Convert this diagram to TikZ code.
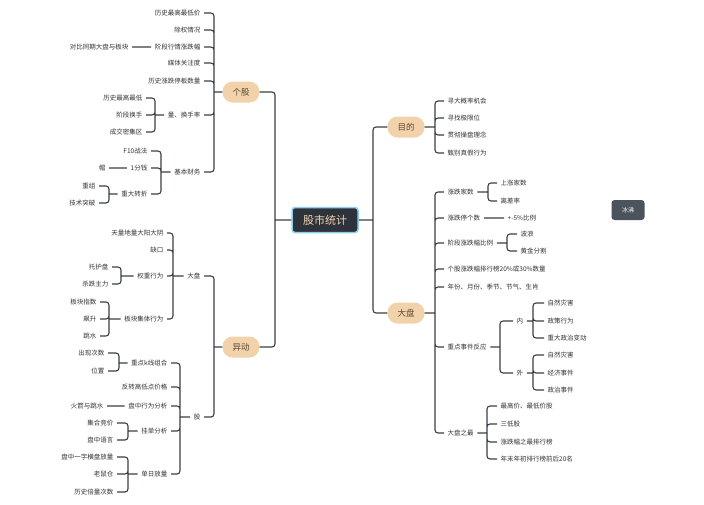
\documentclass[tikz,border=0pt]{standalone}
\usepackage{fontspec}
\newfontfamily\cjk{Noto Sans CJK SC}
\definecolor{linec}{HTML}{3A3E45}
\definecolor{leafc}{HTML}{333333}
\definecolor{topicc}{HTML}{F2D2AB}
\definecolor{topictext}{HTML}{5C4632}
\definecolor{rootc}{HTML}{2E333B}
\definecolor{rootline}{HTML}{8CCFF0}
\definecolor{roottext}{HTML}{F3D8B5}
\definecolor{floatc}{HTML}{4B535D}

\begin{document}
\begin{tikzpicture}[x=1pt,y=-1pt]
\tikzset{leaf/.style={font=\cjk\fontsize{6.5}{7}\selectfont, text=leafc, inner xsep=3.5pt, inner ysep=1pt},
  leafl/.style={leaf, anchor=east},
  leafr/.style={leaf, anchor=west},
  topic/.style={fill=topicc, rounded corners=10pt, minimum width=37pt, minimum height=21pt, inner sep=0pt,
    font=\cjk\fontsize{8.5}{9}\selectfont, text=topictext},
  root/.style={fill=rootc, draw=rootline, line width=1.5pt, rounded corners=3pt, minimum width=66pt,
    minimum height=25pt, font=\cjk\fontsize{11}{12}\selectfont, text=roottext},
  floating/.style={fill=floatc, rounded corners=3pt, minimum width=33pt, minimum height=20pt,
    font=\cjk\fontsize{6}{7}\selectfont, text=white},
  link/.style={draw=linec, line width=1.1pt, rounded corners=3pt}}
\fill[white] (0,0) rectangle (704,504);
\useasboundingbox (0,0) rectangle (704,504);

\node[root] (sc) at (325,220) {股市统计};
\node[floating] (bf) at (628,210) {冰沸};
\node[topic] (gg) at (241,92) {个股};
\node[topic] (yd) at (241,347) {异动};
\node[topic] (md) at (406,127) {目的};
\node[topic] (dp) at (406,313) {大盘};

\coordinate (jl) at (275,220);
\coordinate (jr) at (373,220);
\draw[link] (sc.west) -- (jl) (jl) |- (gg.east) (jl) |- (yd.east)
  (sc.east) -- (jr) (jr) |- (md.west) (jr) |- (dp.west);

% 个股
\node[leafl] (gg1) at (204,13) {历史最高最低价};
\node[leafl] (gg2) at (204,30) {除权情况};
\node[leafl] (gg3) at (204,47) {阶段行情涨跌幅};
\node[leafl] (gg4) at (204,63) {媒体关注度};
\node[leafl] (gg5) at (204,81) {历史涨跌停板数量};
\node[leafl] (gg6) at (204,115) {量、换手率};
\node[leafl] (gg7) at (204,172) {基本财务};
\node[leafl] (gg31) at (132,47) {对比同期大盘与板块};
\node[leafl] (gg61) at (146,98) {历史最高最低};
\node[leafl] (gg62) at (146,115) {阶段换手};
\node[leafl] (gg63) at (146,132) {成交密集区};
\node[leafl] (gg71) at (151,151) {F10战法};
\node[leafl] (gg72) at (151,168) {1分钱};
\node[leafl] (gg73) at (151,194) {重大转折};
\node[leafl] (gg721) at (109,168) {帽};
\node[leafl] (gg731) at (99,186) {重组};
\node[leafl] (gg732) at (99,203) {技术突破};

\coordinate (jgg) at (214,92);
\coordinate (jgg6) at (155,115);
\coordinate (jgg7) at (161,172);
\coordinate (jgg73) at (109,194);
\draw[link] (gg.west) -- (jgg) (jgg) |- (gg1.east) (jgg) |- (gg2.east) (jgg) |- (gg3.east)
  (jgg) |- (gg4.east) (jgg) |- (gg5.east) (jgg) |- (gg6.east) (jgg) |- (gg7.east)
  (gg3.west) -- (gg31.east)
  (gg6.west) -- (jgg6) (jgg6) |- (gg61.east) (jgg6) |- (gg62.east) (jgg6) |- (gg63.east)
  (gg7.west) -- (jgg7) (jgg7) |- (gg71.east) (jgg7) |- (gg72.east) (jgg7) |- (gg73.east)
  (gg72.west) -- (gg721.east)
  (gg73.west) -- (jgg73) (jgg73) |- (gg731.east) (jgg73) |- (gg732.east);

% 异动
\node[leafl] (yd1) at (204,276) {大盘};
\node[leafl] (yd2) at (204,417) {股};
\node[leafl] (yd11) at (167,233) {天量地量大阳大阴};
\node[leafl] (yd12) at (167,250) {缺口};
\node[leafl] (yd13) at (167,276) {权重行为};
\node[leafl] (yd14) at (167,319) {板块集体行为};
\node[leafl] (yd131) at (112,267) {托护盘};
\node[leafl] (yd132) at (112,284) {杀跌主力};
\node[leafl] (yd141) at (100,302) {板块指数};
\node[leafl] (yd142) at (100,319) {飙升};
\node[leafl] (yd143) at (100,336) {跳水};
\node[leafl] (yd21) at (171,363) {重点k线组合};
\node[leafl] (yd22) at (171,387) {反转高低点价格};
\node[leafl] (yd23) at (171,406) {盘中行为分析};
\node[leafl] (yd24) at (171,431) {挂单分析};
\node[leafl] (yd25) at (171,474) {单日放量};
\node[leafl] (yd211) at (108,353) {出现次数};
\node[leafl] (yd212) at (108,371) {位置};
\node[leafl] (yd231) at (107,406) {火箭与跳水};
\node[leafl] (yd241) at (117,423) {集合竞价};
\node[leafl] (yd242) at (117,440) {盘中语言};
\node[leafl] (yd251) at (117,457) {盘中一字横盘放量};
\node[leafl] (yd252) at (117,474) {老鼠仓};
\node[leafl] (yd253) at (117,492) {历史倍量次数};

\coordinate (jyd) at (214,347);
\coordinate (jyd1) at (173,276);
\coordinate (jyd13) at (121,276);
\coordinate (jyd14) at (109,319);
\coordinate (jyd2) at (180,417);
\coordinate (jyd21) at (119,363);
\coordinate (jyd24) at (128,431);
\coordinate (jyd25) at (128,474);
\draw[link] (yd.west) -- (jyd) (jyd) |- (yd1.east) (jyd) |- (yd2.east)
  (yd1.west) -- (jyd1) (jyd1) |- (yd11.east) (jyd1) |- (yd12.east) (jyd1) |- (yd13.east) (jyd1) |- (yd14.east)
  (yd13.west) -- (jyd13) (jyd13) |- (yd131.east) (jyd13) |- (yd132.east)
  (yd14.west) -- (jyd14) (jyd14) |- (yd141.east) (jyd14) |- (yd142.east) (jyd14) |- (yd143.east)
  (yd2.west) -- (jyd2) (jyd2) |- (yd21.east) (jyd2) |- (yd22.east) (jyd2) |- (yd23.east)
  (jyd2) |- (yd24.east) (jyd2) |- (yd25.east)
  (yd21.west) -- (jyd21) (jyd21) |- (yd211.east) (jyd21) |- (yd212.east)
  (yd23.west) -- (yd231.east)
  (yd24.west) -- (jyd24) (jyd24) |- (yd241.east) (jyd24) |- (yd242.east)
  (yd25.west) -- (jyd25) (jyd25) |- (yd251.east) (jyd25) |- (yd252.east) (jyd25) |- (yd253.east);

% 目的
\node[leafr] (md1) at (444,101) {寻大概率机会};
\node[leafr] (md2) at (444,118) {寻找极限位};
\node[leafr] (md3) at (444,135) {贯彻操盘理念};
\node[leafr] (md4) at (444,153) {甄别真假行为};
\coordinate (jmd) at (435,127);
\draw[link] (md.east) -- (jmd) (jmd) |- (md1.west) (jmd) |- (md2.west) (jmd) |- (md3.west) (jmd) |- (md4.west);

% 大盘
\node[leafr] (dp1) at (444,192) {涨跌家数};
\node[leafr] (dp2) at (444,218) {涨跌停个数};
\node[leafr] (dp3) at (444,243) {阶段涨跌幅比例};
\node[leafr] (dp4) at (444,269) {个股涨跌幅排行榜20\%或30\%数量};
\node[leafr] (dp5) at (444,287) {年份、月份、季节、节气、生肖};
\node[leafr] (dp6) at (444,347) {重点事件反应};
\node[leafr] (dp7) at (444,433) {大盘之最};
\node[leafr] (dp11) at (497,183) {上涨家数};
\node[leafr] (dp12) at (497,201) {离差率};
\node[leafr] (dp21) at (504,218) {+-5\%比例};
\node[leafr] (dp31) at (517,234) {波浪};
\node[leafr] (dp32) at (517,251) {黄金分割};
\node[leafr] (dp61) at (513,321) {内};
\node[leafr] (dp62) at (513,373) {外};
\node[leafr] (dp611) at (544,303) {自然灾害};
\node[leafr] (dp612) at (544,321) {政策行为};
\node[leafr] (dp613) at (544,338) {重大政治变动};
\node[leafr] (dp621) at (544,355) {自然灾害};
\node[leafr] (dp622) at (544,373) {经济事件};
\node[leafr] (dp623) at (544,390) {政治事件};
\node[leafr] (dp71) at (497,406) {最高价、最低价股};
\node[leafr] (dp72) at (497,424) {三低股};
\node[leafr] (dp73) at (497,442) {涨跌幅之最排行榜};
\node[leafr] (dp74) at (497,459) {年末年初排行榜前后20名};

\coordinate (jdp) at (435,313);
\coordinate (jdp1) at (488,192);
\coordinate (jdp3) at (507,243);
\coordinate (jdp6) at (500,347);
\coordinate (jdp61) at (533,321);
\coordinate (jdp62) at (533,373);
\coordinate (jdp7) at (487,433);
\draw[link] (dp.east) -- (jdp) (jdp) |- (dp1.west) (jdp) |- (dp2.west) (jdp) |- (dp3.west) (jdp) |- (dp4.west)
  (jdp) |- (dp5.west) (jdp) |- (dp6.west) (jdp) |- (dp7.west)
  (dp1.east) -- (jdp1) (jdp1) |- (dp11.west) (jdp1) |- (dp12.west)
  (dp2.east) -- (dp21.west)
  (dp3.east) -- (jdp3) (jdp3) |- (dp31.west) (jdp3) |- (dp32.west)
  (dp6.east) -- (jdp6) (jdp6) |- (dp61.west) (jdp6) |- (dp62.west)
  (dp61.east) -- (jdp61) (jdp61) |- (dp611.west) (jdp61) |- (dp612.west) (jdp61) |- (dp613.west)
  (dp62.east) -- (jdp62) (jdp62) |- (dp621.west) (jdp62) |- (dp622.west) (jdp62) |- (dp623.west)
  (dp7.east) -- (jdp7) (jdp7) |- (dp71.west) (jdp7) |- (dp72.west) (jdp7) |- (dp73.west) (jdp7) |- (dp74.west);
\end{tikzpicture}
\end{document}
